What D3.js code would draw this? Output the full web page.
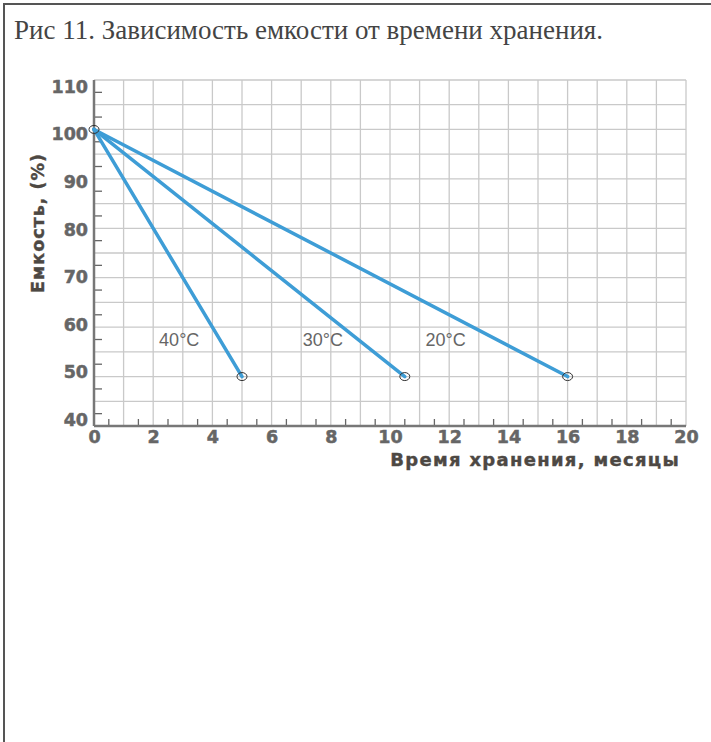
<!DOCTYPE html>
<html>
<head>
<meta charset="utf-8">
<script src="https://cdn.jsdelivr.net/npm/d3@7"></script>
<style>
  body { margin: 0; background: #fff; }
  svg { display: block; }
</style>
</head>
<body>
<div id="chart"></div>
<script>
// data
var seriesNames = ["40°C", "30°C", "20°C"];
var startMonths = [0, 0, 0];
var startCapacity = [100, 100, 100];
var endMonths = [5, 10.5, 16];
var endCapacity = [50, 50, 50];
var xTicks = [0, 2, 4, 6, 8, 10, 12, 14, 16, 18, 20];
var yTicks = [40, 50, 60, 70, 80, 90, 100, 110];

var svgWidth = 711;
var svgHeight = 742;

var svg = d3.select("#chart")
  .append("svg")
  .attr("width", svgWidth)
  .attr("height", svgHeight);

// frame
svg.append("rect")
  .attr("x", 4).attr("y", 4)
  .attr("width", 760).attr("height", 800)
  .attr("fill", "none")
  .attr("stroke", "#555")
  .attr("stroke-width", 2);

svg.append("text")
  .attr("x", 14).attr("y", 39)
  .attr("font-family", "Liberation Serif, serif")
  .attr("font-size", 27)
  .attr("fill", "#444")
  .text("Рис 11. Зависимость емкости от времени хранения.");

var x = d3.scaleLinear().domain([0, 20]).range([94, 686]);
var y = d3.scaleLinear().domain([40, 110]).range([426, 80]);
// the printed y labels sit on a slightly tighter spacing than the grid
var yLabel = d3.scaleLinear().domain([40, 110]).range([419, 86]);

var grid = svg.append("g");
grid.selectAll("line.v")
  .data(d3.range(1, 21))
  .enter().append("line")
  .attr("x1", d => x(d)).attr("x2", d => x(d))
  .attr("y1", y(40)).attr("y2", y(110))
  .attr("stroke", "#c9c9c9").attr("stroke-width", 1.3);
grid.selectAll("line.h")
  .data(d3.range(45, 111, 5))
  .enter().append("line")
  .attr("x1", x(0)).attr("x2", x(20))
  .attr("y1", d => y(d)).attr("y2", d => y(d))
  .attr("stroke", "#c9c9c9").attr("stroke-width", 1.3);

// minor ticks pointing inward
svg.append("g").selectAll("line")
  .data(d3.range(42.5, 110, 5))
  .enter().append("line")
  .attr("x1", x(0)).attr("x2", x(0) + 8)
  .attr("y1", d => y(d)).attr("y2", d => y(d))
  .attr("stroke", "#666").attr("stroke-width", 1.3);
svg.append("g").selectAll("line")
  .data(d3.range(0.5, 20, 1))
  .enter().append("line")
  .attr("x1", d => x(d)).attr("x2", d => x(d))
  .attr("y1", y(40)).attr("y2", y(40) - 7)
  .attr("stroke", "#666").attr("stroke-width", 1.3);

// axes
var bottomAxis = d3.axisBottom(x).tickValues(xTicks).tickSize(0).tickPadding(5);
var leftAxis = d3.axisLeft(y).tickValues(yTicks).tickSize(0).tickPadding(6);

var gx = svg.append("g")
  .attr("transform", `translate(0, ${y(40)})`)
  .call(bottomAxis);
var gy = svg.append("g")
  .attr("transform", `translate(${x(0)}, 0)`)
  .call(leftAxis);

[gx, gy].forEach(function(g) {
  g.select(".domain").attr("stroke", "#777").attr("stroke-width", 2.5);
  g.selectAll("text")
    .attr("font-family", "DejaVu Sans, sans-serif")
    .attr("font-weight", "bold")
    .attr("font-size", 17.5)
    .attr("fill", "#666")
    .attr("stroke", "#666")
    .attr("stroke-width", 0.5);
});
gy.selectAll(".tick text")
  .attr("y", d => yLabel(d) - y(d))
  .attr("dy", "0.36em");
gx.select(".domain").attr("d", `M${x(0)},0H${x(20)}`);
gy.select(".domain").attr("d", `M0,${y(40)}V${y(110)}`);

svg.append("text")
  .attr("x", 680).attr("y", 466)
  .attr("text-anchor", "end")
  .attr("font-family", "DejaVu Sans, sans-serif")
  .attr("font-weight", "bold")
  .attr("font-size", 18)
  .attr("letter-spacing", 1.3)
  .attr("fill", "#4d4843")
  .attr("stroke", "#4d4843")
  .attr("stroke-width", 0.4)
  .text("Время хранения, месяцы");

svg.append("text")
  .attr("transform", "rotate(-90)")
  .attr("x", -223).attr("y", 44)
  .attr("text-anchor", "middle")
  .attr("font-family", "DejaVu Sans, sans-serif")
  .attr("font-weight", "bold")
  .attr("font-size", 17.5)
  .attr("letter-spacing", 1)
  .attr("fill", "#4d4843")
  .attr("stroke", "#4d4843")
  .attr("stroke-width", 0.4)
  .text("Емкость, (%)");

// lines
var series = seriesNames.map(function(name, i) {
  return { name: name, x0: startMonths[i], y0: startCapacity[i], x1: endMonths[i], y1: endCapacity[i] };
});

svg.append("g").selectAll("line")
  .data(series)
  .enter().append("line")
  .attr("x1", d => x(d.x0)).attr("y1", d => y(d.y0))
  .attr("x2", d => x(d.x1)).attr("y2", d => y(d.y1))
  .attr("stroke", "#3e9dd6")
  .attr("stroke-width", 3.5)
  .attr("stroke-linecap", "round");

var ends = [];
series.forEach(function(d) { ends.push([d.x1, d.y1]); });
ends.push([series[0].x0, series[0].y0]);

svg.append("g").selectAll("ellipse")
  .data(ends)
  .enter().append("ellipse")
  .attr("cx", d => x(d[0])).attr("cy", d => y(d[1]))
  .attr("rx", 5).attr("ry", 4)
  .attr("fill", "none")
  .attr("stroke", "#333")
  .attr("stroke-width", 1);

// series labels
var labelAt = [2.2, 7.05, 11.2];
svg.append("g").selectAll("text")
  .data(series)
  .enter().append("text")
  .attr("x", (d, i) => x(labelAt[i]))
  .attr("y", y(56.2))
  .attr("font-family", "Liberation Sans, Arial, sans-serif")
  .attr("font-size", 18)
  .attr("fill", "#666")
  .text(d => d.name);
</script>
</body>
</html>
